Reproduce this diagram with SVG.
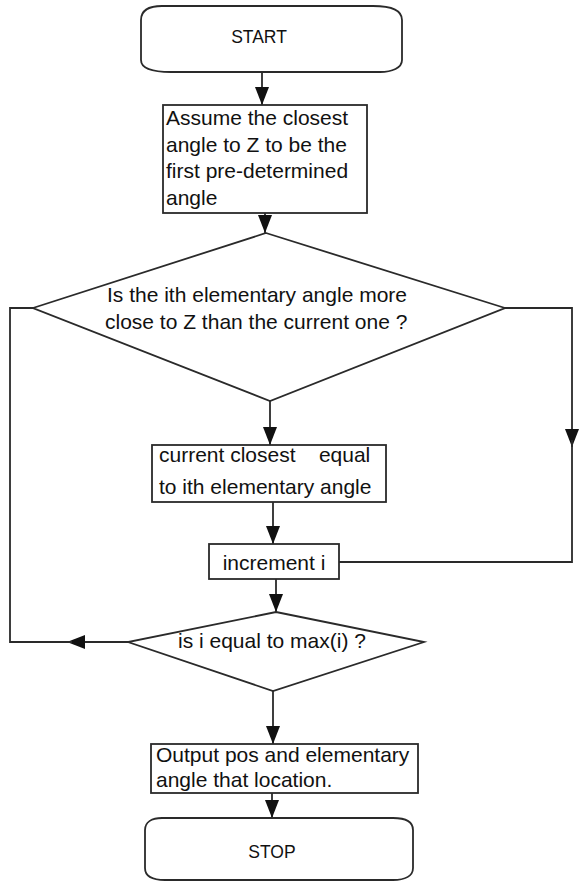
<svg xmlns="http://www.w3.org/2000/svg" width="580" height="882" viewBox="0 0 580 882">
<style>
.shape{fill:#fff;stroke:#2a2a2a;stroke-width:1.8}
.conn{fill:none;stroke:#2a2a2a;stroke-width:1.8}
.t{font-family:"Liberation Sans",Arial,sans-serif;font-size:21px;fill:#111}
.term{font-family:"Liberation Sans",Arial,sans-serif;font-size:17.5px;fill:#111}
</style>
<defs>
<marker id="ah" markerUnits="userSpaceOnUse" markerWidth="18" markerHeight="14" refX="18" refY="7" orient="auto">
<path d="M0,0 L18,7 L0,14 Z" fill="#111"/>
</marker>
</defs>
<rect width="580" height="882" fill="#fff"/>
<g id="connectors">
<path class="conn" d="M262,72 V105" marker-end="url(#ah)"/>
<path class="conn" d="M265,213 V233" marker-end="url(#ah)"/>
<path class="conn" d="M270,401 V445" marker-end="url(#ah)"/>
<path class="conn" d="M273,502 V544" marker-end="url(#ah)"/>
<path class="conn" d="M276,579 V612" marker-end="url(#ah)"/>
<path class="conn" d="M273,691 V744" marker-end="url(#ah)"/>
<path class="conn" d="M272,793 V818" marker-end="url(#ah)"/>
<path class="conn" d="M505,308 H572 V447" marker-end="url(#ah)"/>
<path class="conn" d="M572,440 V562 H339"/>
<path class="conn" d="M128,642 H67" marker-end="url(#ah)"/>
<path class="conn" d="M72,642 H10 V308 H33"/>
</g>
<g id="start">
<path class="shape" d="M162,6 H373 C392,6 402,10 402,20 V60 C402,68 392,72 380,72 H171 C152,72 141,68 141,60 V20 C141,10 150,6 162,6 Z"/>
<text class="term" x="259" y="43" text-anchor="middle">START</text>
</g>
<g id="assume">
<rect class="shape" x="163" y="105" width="204" height="108"/>
<text class="t" x="166" y="125">Assume the closest</text>
<text class="t" x="166" y="151.5">angle to Z to be the</text>
<text class="t" x="166" y="178">first pre-determined</text>
<text class="t" x="166" y="204.5">angle</text>
</g>
<g id="decision1">
<polygon class="shape" points="266,233 505,308 270,401 33,308"/>
<text class="t" x="107" y="302">Is the ith elementary angle more</text>
<text class="t" x="105" y="329">close to Z than the current one ?</text>
</g>
<g id="update">
<rect class="shape" x="152" y="445" width="234" height="57"/>
<text class="t" x="159" y="462" xml:space="preserve">current closest    equal</text>
<text class="t" x="159" y="494">to ith elementary angle</text>
</g>
<g id="increment">
<rect class="shape" x="209" y="544" width="130" height="35"/>
<text class="t" x="274" y="570" text-anchor="middle">increment i</text>
</g>
<g id="decision2">
<polygon class="shape" points="276,612 424,642 273,691 128,642"/>
<text class="t" x="178" y="648">is i equal to max(i) ?</text>
</g>
<g id="output">
<rect class="shape" x="151" y="744" width="267" height="49"/>
<text class="t" x="156" y="762">Output pos and elementary</text>
<text class="t" x="156" y="787">angle that location.</text>
</g>
<g id="stop">
<path class="shape" d="M162,818 H393 C406,818 413,822 413,830 V868 C413,876 405,880 393,880 H165 C152,880 145,876 145,868 V830 C145,822 152,818 162,818 Z"/>
<text class="term" x="272" y="858" text-anchor="middle">STOP</text>
</g>
</svg>
